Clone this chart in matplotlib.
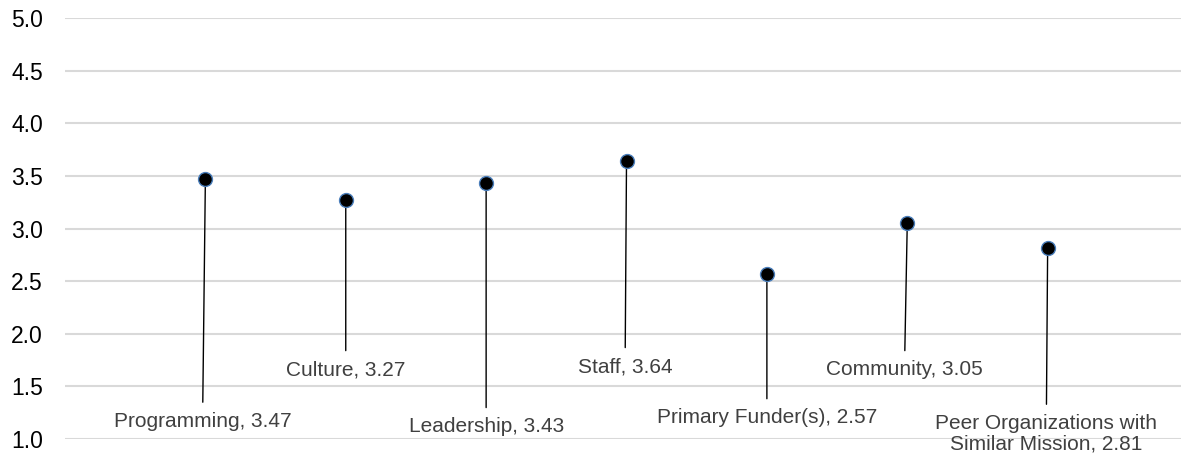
import numpy as np
import matplotlib.pyplot as plt

plt.rcParams['font.family'] = ['Liberation Sans', 'DejaVu Sans']

# scores by relationship area
areas = ['Programming', 'Culture', 'Leadership', 'Staff', 'Primary Funder(s)',
         'Community', 'Peer Organizations with\nSimilar Mission']
scores = [3.47, 3.27, 3.43, 3.64, 2.57, 3.05, 2.81]

# where each callout label sits (x offset, y in score units)
lbl_dx = [-0.02, 0.0, 0.0, -0.01, 0.0, -0.02, -0.01]
lbl_y = [1.167, 1.657, 1.116, 1.686, 1.20, 1.657, 1.05]

fig = plt.figure(figsize=(11.81, 4.57), dpi=100)
ax = fig.add_axes([65 / 1181, 18 / 457, 1 - 65 / 1181, 1 - 36 / 457])

x = np.arange(1, len(scores) + 1)
ax.plot(x, scores, 'o', ms=10, mfc='black', mec='#4a7ebb', mew=1, zorder=3,
        linestyle='none')

for i in range(len(scores)):
    ax.annotate('%s, %.2f' % (areas[i], scores[i]),
                xy=(x[i], scores[i]), xytext=(x[i] + lbl_dx[i], lbl_y[i]),
                ha='center', va='center', fontsize=15, color='#404040',
                multialignment='center', linespacing=1.1,
                arrowprops=dict(arrowstyle='-', color='black', lw=1.0,
                                shrinkA=5, shrinkB=0), zorder=2)

ax.set_xlim(0, 7.95)
ax.set_ylim(1.0, 5.0)
ax.set_yticks(np.arange(1.0, 5.01, 0.5))
ax.set_yticklabels(['%.1f' % v for v in np.arange(1.0, 5.01, 0.5)])
ax.set_xticks([])
ax.tick_params(axis='y', length=0, pad=16, labelsize=16.5, labelcolor='black')
ax.grid(axis='y', color='#d9d9d9', lw=1.5)
ax.set_axisbelow(True)
for s in ax.spines.values():
    s.set_visible(False)

fig.savefig('out.png', dpi=100)
